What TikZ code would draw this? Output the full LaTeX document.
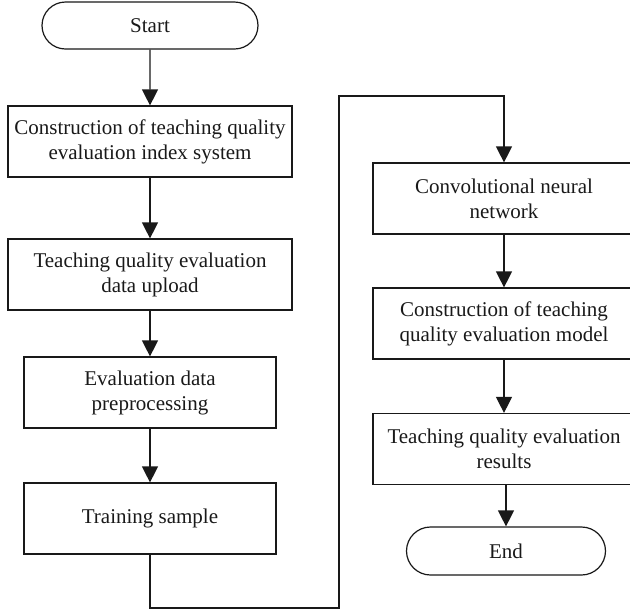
\documentclass[tikz,border=0pt]{standalone}
\usepackage{fontspec}
\setmainfont{Liberation Serif}
\usetikzlibrary{arrows.meta,shapes.misc}
\begin{document}
\begin{tikzpicture}[x=1pt,y=-1pt,
    box/.style={draw=black!90,line width=1.2pt,minimum width=284pt,minimum height=71pt,
        align=center,inner sep=0pt,text=black!90,font=\fontsize{21}{25}\selectfont},
    narrow/.style={box,minimum width=252pt},
    wide/.style={box,minimum width=262pt},
    term/.style={box,rounded rectangle,minimum width=216pt,minimum height=47pt},
    arr/.style={draw=black!90,line width=1.2pt,-{Triangle[length=16pt,width=16pt]}}]
\useasboundingbox (0,0) rectangle (630,614);
\node[term] (start) at (150,25.5) {Start};
\node[box] (index) at (150,141.5) {Construction of teaching quality\\evaluation index system};
\node[box] (upload) at (150,274.5) {Teaching quality evaluation\\data upload};
\node[narrow] (prep) at (150,392.5) {Evaluation data\\preprocessing};
\node[narrow] (train) at (150,518.5) {Training sample};
\node[wide] (cnn) at (504,198.5) {Convolutional neural\\network};
\node[wide] (model) at (504,323.5) {Construction of teaching\\quality evaluation model};
\node[wide] (result) at (504,449) {Teaching quality evaluation\\results};
\node[term,minimum width=199pt,minimum height=48pt] (end) at (506,551) {End};
\coordinate (low) at (339,608);
\coordinate (high) at (339,96);
\draw[arr] (start) -- (index);
\draw[arr] (index) -- (upload);
\draw[arr] (upload) -- (prep);
\draw[arr] (prep) -- (train);
\draw[arr] (train.south) |- (low) -- (high) -| (cnn.north);
\draw[arr] (cnn) -- (model);
\draw[arr] (model) -- (result);
\draw[arr] (result.south -| end.north) -- (end.north);
\end{tikzpicture}
\end{document}
